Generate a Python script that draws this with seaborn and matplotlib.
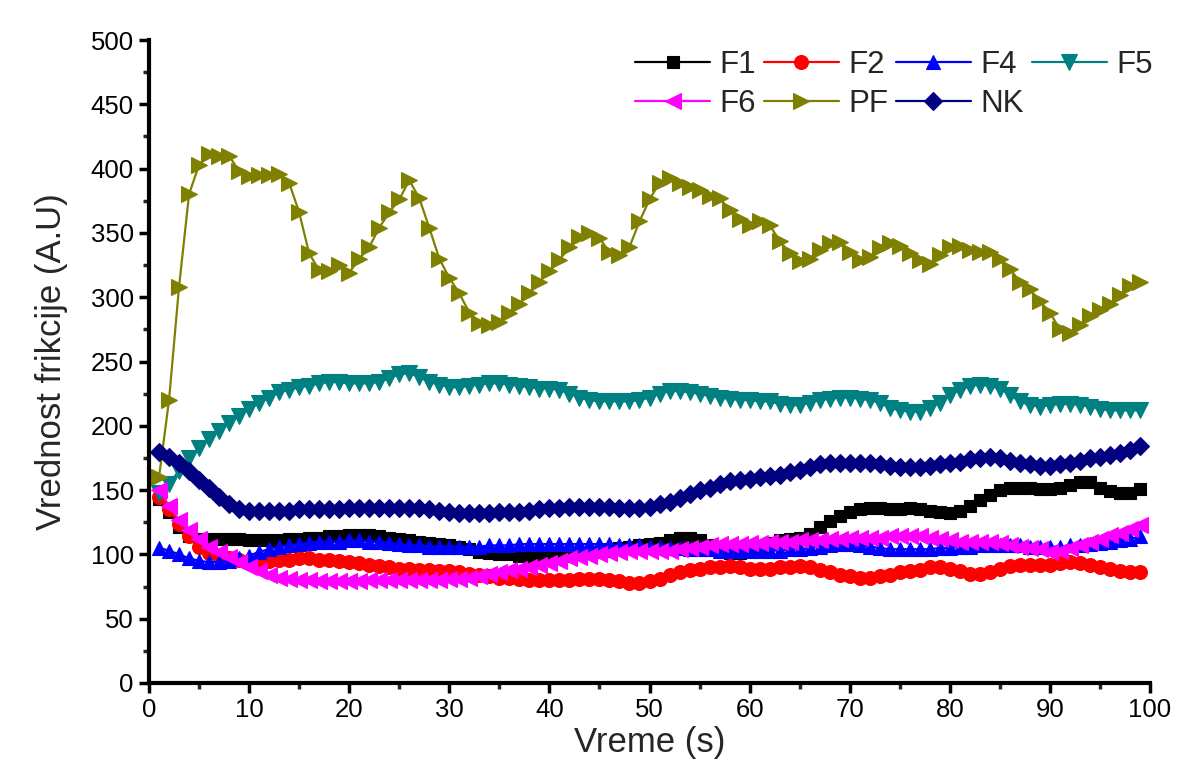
import numpy as np
import pandas as pd
import matplotlib
matplotlib.use("Agg")
import matplotlib.pyplot as plt
import seaborn as sns
from matplotlib.ticker import MultipleLocator

time_s = list(range(1, 100))

F1 = [143, 133, 121, 114, 112, 112, 112, 112, 112, 111, 111, 111, 111, 112, 112, 113, 113, 114, 114, 115,
      115, 115, 114, 113, 112, 111, 110, 109, 108, 107, 106, 104, 102, 101, 100, 100, 99, 98, 98, 97,
      98, 99, 100, 101, 102, 103, 105, 106, 107, 108, 109, 111, 113, 113, 111, 107, 103, 101, 101, 103,
      106, 109, 111, 112, 113, 116, 121, 126, 130, 133, 135, 136, 136, 135, 135, 136, 135, 134, 133, 132,
      134, 138, 142, 146, 150, 152, 152, 152, 151, 151, 152, 154, 156, 156, 152, 149, 148, 148, 151]

F2 = [145, 135, 124, 114, 106, 101, 99, 97, 96, 95, 95, 95, 96, 96, 97, 97, 96, 96, 95, 94,
      93, 92, 91, 90, 89, 89, 88, 88, 87, 87, 86, 85, 84, 83, 82, 82, 81, 80, 80, 80,
      80, 80, 81, 81, 81, 80, 79, 78, 78, 79, 81, 84, 86, 88, 89, 90, 90, 91, 90, 89,
      89, 89, 90, 90, 91, 90, 88, 86, 84, 83, 82, 82, 83, 84, 86, 87, 88, 90, 90, 89,
      87, 85, 85, 86, 89, 91, 92, 92, 92, 92, 93, 94, 93, 92, 90, 89, 87, 86, 86]

F4 = [105, 103, 100, 97, 95, 94, 94, 95, 97, 99, 102, 104, 106, 107, 108, 109, 110, 110, 110, 111,
      111, 110, 110, 109, 108, 107, 107, 106, 106, 106, 106, 106, 106, 107, 107, 107, 108, 108, 108, 108,
      108, 108, 108, 108, 108, 108, 107, 107, 107, 106, 106, 105, 105, 104, 104, 104, 103, 103, 103, 103,
      103, 103, 103, 104, 104, 105, 106, 107, 108, 108, 107, 106, 105, 104, 104, 104, 104, 104, 105, 105,
      106, 106, 107, 107, 107, 107, 107, 106, 106, 106, 106, 107, 107, 108, 109, 110, 111, 112, 114]

F5 = [148, 155, 165, 175, 183, 190, 196, 202, 208, 213, 218, 222, 226, 228, 230, 231, 233, 234, 234, 233,
      233, 233, 234, 237, 240, 241, 238, 234, 232, 230, 230, 231, 232, 233, 233, 232, 231, 230, 229, 229,
      228, 225, 222, 220, 219, 219, 219, 219, 220, 222, 225, 227, 227, 226, 225, 223, 222, 221, 220, 220,
      219, 219, 217, 216, 216, 218, 220, 221, 222, 222, 221, 220, 218, 214, 212, 211, 211, 214, 218, 224,
      228, 231, 232, 231, 229, 224, 219, 216, 215, 216, 217, 217, 216, 215, 213, 212, 212, 212, 212]

F6 = [150, 138, 127, 119, 112, 106, 102, 98, 94, 90, 87, 84, 82, 81, 80, 80, 79, 79, 79, 79,
      79, 80, 80, 80, 80, 80, 80, 80, 80, 81, 81, 82, 83, 85, 86, 88, 89, 90, 92, 93,
      95, 97, 98, 99, 100, 101, 102, 103, 103, 103, 103, 103, 104, 105, 106, 107, 108, 108, 108, 109,
      109, 110, 110, 110, 111, 111, 111, 112, 112, 113, 113, 113, 113, 114, 114, 114, 114, 113, 112, 111,
      110, 110, 110, 110, 109, 107, 106, 105, 104, 102, 103, 105, 107, 110, 112, 115, 117, 120, 123]

PF = [160, 220, 308, 380, 403, 411, 410, 410, 398, 394, 395, 395, 396, 389, 366, 334, 321, 320, 325, 319,
      330, 339, 354, 366, 376, 391, 377, 354, 330, 315, 303, 288, 280, 278, 281, 288, 295, 303, 312, 320,
      329, 339, 347, 350, 346, 335, 333, 339, 359, 376, 389, 393, 389, 386, 383, 379, 377, 368, 361, 356,
      359, 356, 344, 334, 328, 330, 337, 342, 343, 335, 329, 331, 338, 342, 340, 334, 329, 326, 333, 339,
      340, 337, 335, 335, 330, 322, 312, 306, 297, 288, 275, 272, 278, 285, 290, 295, 302, 309, 312]

NK = [180, 176, 171, 165, 158, 152, 145, 139, 135, 134, 134, 134, 134, 134, 135, 135, 135, 135, 135, 136,
      136, 136, 136, 136, 136, 136, 136, 135, 134, 133, 132, 132, 132, 132, 133, 133, 133, 134, 135, 136,
      136, 137, 137, 137, 137, 137, 136, 136, 136, 137, 139, 141, 144, 147, 150, 152, 155, 157, 158, 159,
      160, 161, 162, 164, 166, 168, 170, 171, 171, 171, 171, 171, 170, 169, 168, 168, 168, 169, 170, 171,
      172, 174, 175, 176, 175, 173, 171, 170, 169, 169, 170, 171, 173, 175, 176, 177, 179, 181, 184]

series_names = ["F1", "F2", "F4", "F5", "F6", "PF", "NK"]
series_values = [F1, F2, F4, F5, F6, PF, NK]
colors = ["#000000", "#FF0000", "#0000FF", "#008080", "#FF00FF", "#808000", "#000080"]
markers = ["s", "o", "^", "v", "<", ">", "D"]
msizes = [9, 10, 10.5, 11, 11, 11, 9]

x_ticks = [0, 10, 20, 30, 40, 50, 60, 70, 80, 90, 100]
y_ticks = [0, 50, 100, 150, 200, 250, 300, 350, 400, 450, 500]

df = pd.concat([pd.DataFrame({"t": time_s, "v": vals, "s": name})
                for name, vals in zip(series_names, series_values)], ignore_index=True)

sns.set_style("ticks")
plt.rcParams["font.family"] = ["Liberation Sans", "DejaVu Sans"]

fig = plt.figure(figsize=(12.01, 7.70), dpi=100)
ax = fig.add_axes([149/1201, 1-683/770, (1150-149)/1201, (683-40)/770])

handles = {}
for name, col, mk, ms in zip(series_names, colors, markers, msizes):
    sub = df[df["s"] == name]
    sns.lineplot(data=sub, x="t", y="v", ax=ax, color=col, marker=mk, markersize=ms,
                 markeredgecolor=col, markeredgewidth=0.8, linewidth=1.6, legend=False)
    handles[name] = ax.lines[-1]

ax.set_xlim(0, 100)
ax.set_ylim(0, 500)
ax.set_xticks(x_ticks)
ax.set_yticks(y_ticks)
ax.xaxis.set_minor_locator(MultipleLocator(5))
ax.yaxis.set_minor_locator(MultipleLocator(25))
ax.tick_params(axis="both", which="major", direction="out", length=7, width=2.5,
               labelsize=18.5, colors="black", pad=4)
ax.tick_params(axis="both", which="minor", direction="out", length=4, width=2.5)
for sp in ["left", "bottom"]:
    ax.spines[sp].set_linewidth(3)
    ax.spines[sp].set_color("black")
ax.spines["top"].set_visible(False)
ax.spines["right"].set_visible(False)
ax.set_xlabel("Vreme (s)", fontsize=25, labelpad=3)
ax.set_ylabel("Vrednost frikcije (A.U)", fontsize=25, labelpad=16)

order = ["F1", "F6", "F2", "PF", "F4", "NK", "F5"]
leg = fig.legend([handles[n] for n in order], order, loc="upper left",
                 bbox_to_anchor=(635/1201, 1-50/770), ncol=4, frameon=False,
                 fontsize=22.5, handlelength=2.4, handletextpad=0.3, columnspacing=0.25,
                 labelspacing=0.3, borderaxespad=0, borderpad=0)

fig.savefig("out.png", dpi=100, facecolor="white")
